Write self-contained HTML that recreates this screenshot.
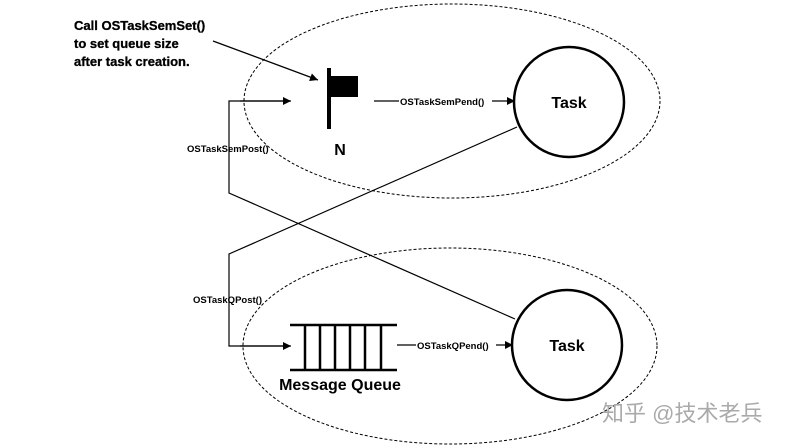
<!DOCTYPE html>
<html><head><meta charset="utf-8"><style>
html,body{margin:0;padding:0;background:#fff;width:792px;height:448px;overflow:hidden}
svg text{font-family:"Liberation Sans",Arial,sans-serif;font-weight:bold;fill:#000}
</style></head><body>
<svg width="792" height="448" viewBox="0 0 792 448" xmlns="http://www.w3.org/2000/svg">
<defs>
<marker id="a" viewBox="0 0 10 10" refX="10" refY="5" markerWidth="10" markerHeight="8" markerUnits="userSpaceOnUse" orient="auto"><path d="M0,0L10,5L0,10z" fill="#000"/></marker>
</defs>
<ellipse cx="452" cy="101" rx="208" ry="97" fill="none" stroke="#000" stroke-width="1" stroke-dasharray="3,2"/>
<ellipse cx="450" cy="346" rx="207" ry="98" fill="none" stroke="#000" stroke-width="1" stroke-dasharray="3,2"/>
<circle cx="569" cy="102" r="55" fill="none" stroke="#000" stroke-width="2.5"/>
<circle cx="567" cy="345" r="55" fill="none" stroke="#000" stroke-width="2.5"/>
<text x="569" y="108" font-size="16" text-anchor="middle">Task</text>
<text x="567" y="351" font-size="16" text-anchor="middle">Task</text>
<text x="74" y="30" font-size="13" stroke="#000" stroke-width="0.3">Call OSTaskSemSet()</text>
<text x="74" y="48" font-size="13" stroke="#000" stroke-width="0.3">to set queue size</text>
<text x="74" y="66" font-size="13" stroke="#000" stroke-width="0.3">after task creation.</text>
<line x1="213" y1="41" x2="318" y2="80" stroke="#000" stroke-width="1.3" marker-end="url(#a)"/>
<rect x="327" y="68" width="4" height="61" fill="#000"/>
<rect x="330" y="76" width="28" height="21" fill="#000"/>
<text x="340" y="155" font-size="16" text-anchor="middle">N</text>
<line x1="374" y1="101" x2="515" y2="101" stroke="#000" stroke-width="1.2" marker-end="url(#a)"/>
<rect x="399" y="95" width="93" height="12" fill="#fff"/>
<text x="400" y="105" font-size="9.5">OSTaskSemPend()</text>
<polyline points="290,101 229,101 229,193 515,319" fill="none" stroke="#000" stroke-width="1.2"/>
<line x1="240" y1="101" x2="291" y2="101" stroke="#000" stroke-width="1.2" marker-end="url(#a)"/>
<polyline points="517,127 229,254 229,346 290,346" fill="none" stroke="#000" stroke-width="1.2"/>
<line x1="240" y1="346" x2="291" y2="346" stroke="#000" stroke-width="1.2" marker-end="url(#a)"/>
<text x="187" y="152" font-size="9.5">OSTaskSemPost()</text>
<text x="193" y="303" font-size="9.5">OSTaskQPost()</text>
<line x1="290" y1="325" x2="397" y2="325" stroke="#000" stroke-width="2.5"/>
<line x1="290" y1="370" x2="397" y2="370" stroke="#000" stroke-width="2.5"/>
<g stroke="#000" stroke-width="2.5">
<line x1="305" y1="325" x2="305" y2="370"/><line x1="320" y1="325" x2="320" y2="370"/>
<line x1="335" y1="325" x2="335" y2="370"/><line x1="350" y1="325" x2="350" y2="370"/>
<line x1="365" y1="325" x2="365" y2="370"/><line x1="381" y1="325" x2="381" y2="370"/>
</g>
<text x="340" y="390" font-size="16" text-anchor="middle">Message Queue</text>
<line x1="397" y1="345" x2="513" y2="345" stroke="#000" stroke-width="1.2" marker-end="url(#a)"/>
<rect x="416" y="339" width="80" height="12" fill="#fff"/>
<text x="417" y="349" font-size="9.5">OSTaskQPend()</text>
<text x="602" y="421" font-size="22" style="font-family:'Liberation Sans','Noto Sans CJK SC',sans-serif;font-weight:normal;fill:#aaa">知乎 @技术老兵</text>
</svg>
</body></html>
